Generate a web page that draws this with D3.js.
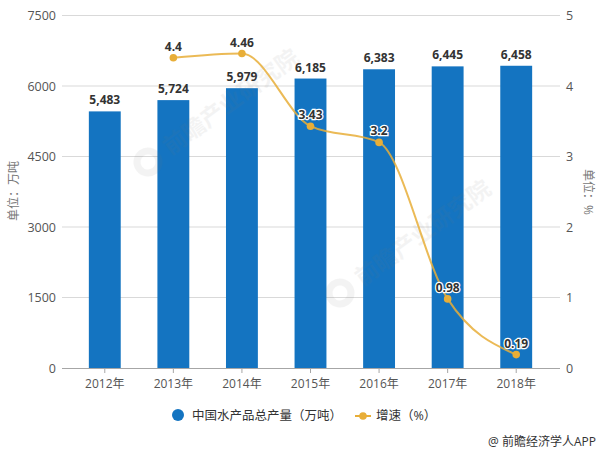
<!DOCTYPE html>
<html>
<head>
<meta charset="utf-8">
<script src="https://cdn.jsdelivr.net/npm/d3@7"></script>
<style>
html, body { margin: 0; padding: 0; background: #fff; }
text { font-family: "Open Sans", "Noto Sans CJK SC", sans-serif; }
</style>
</head>
<body>
<div id="chart"></div>
<script>
var width = 602;
var height = 452;

var years = ["2012年", "2013年", "2014年", "2015年", "2016年", "2017年", "2018年"];
var output = [5483, 5724, 5979, 6185, 6383, 6445, 6458];
var growthYears = ["2013年", "2014年", "2015年", "2016年", "2017年", "2018年"];
var growth = [4.4, 4.46, 3.43, 3.2, 0.98, 0.19];
var leftTicks = [0, 1500, 3000, 4500, 6000, 7500];
var rightTicks = [0, 1, 2, 3, 4, 5];

var blue = "#1474c1";
var gold = "#e8ae38";
var textColor = "#555";

var svg = d3.select("#chart").append("svg")
  .attr("width", width).attr("height", height);

var x = d3.scaleBand().domain(years).range([70.5, 550.5]).paddingInner(0.535).paddingOuter(0.2675);
var yLeft = d3.scaleLinear().domain([0, 7500]).range([368, 15.5]);
var yRight = d3.scaleLinear().domain([0, 5]).range([368, 15.5]);
// bars sit a little under the gridlines in the original
var yBar = d3.scaleLinear().domain([0, 7500]).range([368, 17]);

// gridlines
svg.append("g").selectAll("line").data(leftTicks.slice(1)).enter().append("line")
  .attr("x1", 62).attr("x2", 560)
  .attr("y1", function(d) { return yLeft(d); })
  .attr("y2", function(d) { return yLeft(d); })
  .style("stroke", "#d9d9d9").style("stroke-width", 1);

// bars
svg.append("g").selectAll("rect").data(output).enter().append("rect")
  .attr("x", function(d, i) { return x(years[i]); })
  .attr("y", function(d) { return yBar(d); })
  .attr("width", x.bandwidth())
  .attr("height", function(d) { return yBar(0) - yBar(d); })
  .style("fill", blue);

// watermark
function watermark(lx, ly) {
  var g = svg.append("g")
    .attr("transform", "translate(" + lx + "," + ly + ") rotate(-36)")
    .style("opacity", 0.08);
  g.append("circle").attr("r", 11).style("fill", "none").style("stroke", "#777").style("stroke-width", 7);
  g.append("text").attr("x", 22).attr("dy", "0.35em")
    .style("font-size", "23px").style("font-weight", "bold").style("fill", "#777")
    .text("前瞻产业研究院");
}
watermark(148, 162);
watermark(340, 293);

// axes
var bottom = svg.append("g").attr("transform", "translate(0,368)")
  .call(d3.axisBottom(x).tickSize(5).tickPadding(6));
bottom.select(".domain").attr("d", "M62,0.5H560").style("stroke", "#a6a6a6");
bottom.selectAll(".tick line").style("stroke", "#a6a6a6");
bottom.selectAll("text").style("font-size", "12px").style("fill", textColor);

var left = svg.append("g").attr("transform", "translate(62,0)")
  .call(d3.axisLeft(yLeft).tickValues(leftTicks).tickFormat(d3.format("d")).tickSize(0).tickPadding(6));
left.select(".domain").remove();
left.selectAll("text").style("font-size", "12.5px").style("fill", textColor);

var right = svg.append("g").attr("transform", "translate(560,0)")
  .call(d3.axisRight(yRight).tickValues(rightTicks).tickFormat(d3.format("d")).tickSize(0).tickPadding(6));
right.select(".domain").remove();
right.selectAll("text").style("font-size", "12.5px").style("fill", textColor);

// axis titles
svg.append("text").attr("transform", "translate(14,191) rotate(-90)")
  .attr("text-anchor", "middle").attr("dy", "0.35em")
  .style("font-size", "12px").style("fill", "#777").text("单位：万吨");
svg.append("text").attr("transform", "translate(588,192) rotate(90)")
  .attr("text-anchor", "middle").attr("dy", "0.35em")
  .style("font-size", "12px").style("fill", "#777").text("单位：%");

// growth line
var cx = function(i) { return x(growthYears[i]) + x.bandwidth() / 2; };
var line = d3.line()
  .x(function(d, i) { return cx(i); })
  .y(function(d) { return yRight(d); })
  .curve(d3.curveMonotoneX);

svg.append("path").datum(growth).attr("d", line)
  .style("fill", "none").style("stroke", gold).style("stroke-width", 2).style("stroke-opacity", 0.85);

svg.append("g").selectAll("circle").data(growth).enter().append("circle")
  .attr("cx", function(d, i) { return cx(i); })
  .attr("cy", function(d) { return yRight(d); })
  .attr("r", 3.8)
  .style("fill", gold);

// value labels
svg.append("g").selectAll("text").data(output).enter().append("text")
  .attr("x", function(d, i) { return x(years[i]) + x.bandwidth() / 2; })
  .attr("y", function(d) { return yBar(d) - 7; })
  .attr("text-anchor", "middle")
  .style("font-size", "12px").style("font-weight", "bold").style("fill", "#333")
  .text(function(d) { return d3.format(",")(d); });

svg.append("g").selectAll("text").data(growth).enter().append("text")
  .attr("x", function(d, i) { return cx(i); })
  .attr("y", function(d) { return yRight(d) - 7; })
  .attr("text-anchor", "middle")
  .style("font-size", "12px").style("font-weight", "bold").style("fill", "#333")
  .style("stroke", "#fff").style("stroke-width", 2.5).style("paint-order", "stroke")
  .text(function(d) { return d; });

// legend
svg.append("circle").attr("cx", 178).attr("cy", 415).attr("r", 6).style("fill", blue);
svg.append("text").attr("x", 192).attr("y", 420)
  .style("font-size", "12.5px").style("fill", "#333").text("中国水产品总产量（万吨）");
svg.append("line").attr("x1", 355).attr("x2", 371).attr("y1", 416).attr("y2", 416)
  .style("stroke", gold).style("stroke-width", 2);
svg.append("circle").attr("cx", 363).attr("cy", 416).attr("r", 3.8).style("fill", gold);
svg.append("text").attr("x", 376).attr("y", 420)
  .style("font-size", "12.5px").style("fill", "#333").text("增速（%）");

// source
svg.append("text").attr("x", 596).attr("y", 446).attr("text-anchor", "end")
  .style("font-size", "12px").style("fill", "#333").text("@ 前瞻经济学人APP");
</script>
</body>
</html>
